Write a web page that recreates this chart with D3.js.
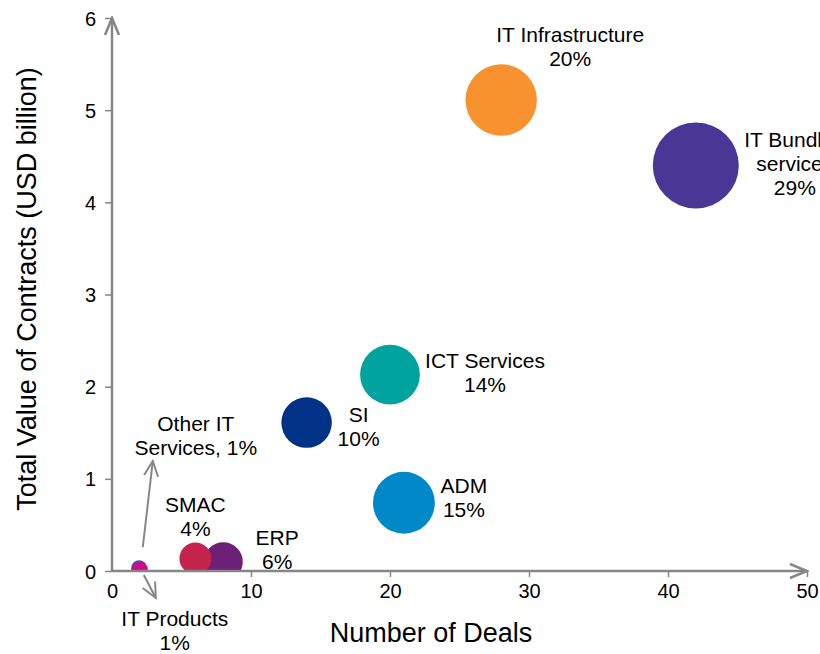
<!DOCTYPE html>
<html>
<head>
<meta charset="utf-8">
<script src="https://cdn.jsdelivr.net/npm/d3@7"></script>
<style>
  html, body { margin: 0; padding: 0; background: #fff; }
  svg { display: block; font-family: "Liberation Sans", Arial, sans-serif; }
</style>
</head>
<body>
<svg id="chart" width="820" height="654"></svg>
<script>
// ---- data ----
const categories = ["IT Bundled services", "IT Infrastructure", "ADM", "ICT Services", "SI", "ERP", "SMAC", "Other IT Services", "IT Products"];
const labelLines = [["IT Bundled", "services", "29%"], ["IT Infrastructure", "20%"], ["ADM", "15%"], ["ICT Services", "14%"], ["SI", "10%"], ["ERP", "6%"], ["SMAC", "4%"], ["Other IT", "Services, 1%"], ["IT Products", "1%"]];
const numberOfDeals = [42, 28, 21, 20, 14, 8, 6, 1.95, 2];
const contractValue = [4.4, 5.11, 0.74, 2.13, 1.61, 0.1, 0.135, 0.03, 0.015];
const sharePct = [29, 20, 15, 14, 10, 6, 4, 1, 1];
const colors = ["#483794", "#F7922F", "#0088C9", "#00A39E", "#003288", "#6C2076", "#C4244B", "#2A5FB0", "#D3088C"];
const xTicks = [0, 10, 20, 30, 40, 50];
const yTicks = [0, 1, 2, 3, 4, 5, 6];

// ---- layout ----
const svg = d3.select("#chart");
const x = d3.scaleLinear().domain([0, 50]).range([112, 807]);
const y = d3.scaleLinear().domain([0, 6]).range([571, 18]);
const r = d3.scaleSqrt().domain([0, 29]).range([0, 43]);
const axisColor = "#868686";

// label offsets relative to bubble centres (px): [dx, first-baseline dy]
const labelOffsets = [[99, -18], [69, -58], [60, -10], [95, -7], [52, -1], [54, -17], [0, -47], [56, -140], [35, 55]];
const lineH = 24;

const defs = svg.append("defs");
defs.append("clipPath").attr("id", "plotClip")
  .append("rect").attr("x", x(0)).attr("y", 0).attr("width", 820 - x(0)).attr("height", y(0));
defs.append("marker").attr("id", "axisArrow")
  .attr("viewBox", "-20 -10 22 20").attr("refX", 0).attr("refY", 0)
  .attr("markerUnits", "userSpaceOnUse").attr("markerWidth", 22).attr("markerHeight", 20)
  .attr("orient", "auto")
  .append("path").attr("d", "M-17,-7 L0,0 L-17,7").attr("fill", "none")
  .attr("stroke", axisColor).attr("stroke-width", 2.5);
defs.append("marker").attr("id", "noteArrow")
  .attr("viewBox", "-18 -10 20 20").attr("refX", 0).attr("refY", 0)
  .attr("markerUnits", "userSpaceOnUse").attr("markerWidth", 20).attr("markerHeight", 20)
  .attr("orient", "auto")
  .append("path").attr("d", "M-15,-7 L0,0 L-15,7").attr("fill", "none")
  .attr("stroke", axisColor).attr("stroke-width", 2);

// ---- bubbles ----
const rows = categories.map((c, i) => ({ c, i, dx: numberOfDeals[i], v: contractValue[i], s: sharePct[i], col: colors[i] }));
svg.append("g").attr("clip-path", "url(#plotClip)")
  .selectAll("circle").data(rows).join("circle")
  .attr("cx", d => x(d.dx)).attr("cy", d => y(d.v)).attr("r", d => r(d.s))
  .attr("fill", d => d.col);

// ---- axes ----
const xAxis = svg.append("g").attr("transform", `translate(0,${y(0)})`)
  .call(d3.axisBottom(x).tickValues(xTicks).tickFormat(d3.format("d")).tickSize(6).tickSizeOuter(0).tickPadding(7));
const yAxis = svg.append("g").attr("transform", `translate(${x(0)},0)`)
  .call(d3.axisLeft(y).tickValues(yTicks).tickFormat(d3.format("d")).tickSize(7).tickSizeOuter(0).tickPadding(9));
[xAxis, yAxis].forEach(g => {
  g.select(".domain").remove();
  g.selectAll(".tick line").attr("stroke", axisColor).attr("stroke-width", 1.5);
  g.selectAll(".tick text").attr("fill", "#000").style("font-size", "20px")
    .style("font-family", "'Liberation Sans', Arial, sans-serif");
});
xAxis.selectAll(".tick line").filter(d => d === 0).remove();
yAxis.selectAll(".tick text").attr("dy", "0.35em");

svg.append("line").attr("x1", x(0)).attr("y1", y(0)).attr("x2", x(50)).attr("y2", y(0))
  .attr("stroke", axisColor).attr("stroke-width", 2.5).attr("marker-end", "url(#axisArrow)");
svg.append("line").attr("x1", x(0)).attr("y1", y(0)).attr("x2", x(0)).attr("y2", y(6))
  .attr("stroke", axisColor).attr("stroke-width", 2.5).attr("marker-end", "url(#axisArrow)");

// ---- annotation arrows for tiny bubbles ----
const otherIdx = categories.indexOf("Other IT Services");
const prodIdx = categories.indexOf("IT Products");
const ox = x(numberOfDeals[prodIdx]), oy = y(0);
svg.append("line").attr("x1", ox + 3).attr("y1", oy - 24).attr("x2", ox + 13).attr("y2", oy - 110)
  .attr("stroke", axisColor).attr("stroke-width", 2).attr("marker-end", "url(#noteArrow)");
svg.append("line").attr("x1", ox + 4).attr("y1", oy + 4).attr("x2", ox + 16).attr("y2", oy + 27)
  .attr("stroke", axisColor).attr("stroke-width", 2).attr("marker-end", "url(#noteArrow)");

// ---- bubble labels ----
const lab = svg.append("g").style("font-size", "21px").attr("fill", "#000").attr("text-anchor", "middle");
rows.forEach(d => {
  const [odx, ody] = labelOffsets[d.i];
  const baseX = (d.i === otherIdx || d.i === prodIdx) ? ox : x(d.dx);
  const baseY = (d.i === otherIdx || d.i === prodIdx) ? oy : y(d.v);
  const t = lab.append("text");
  labelLines[d.i].forEach((ln, k) => {
    t.append("tspan").attr("x", baseX + odx).attr("y", baseY + ody + k * lineH).text(ln);
  });
});

// ---- axis titles ----
svg.append("text").attr("x", 431).attr("y", 642).attr("text-anchor", "middle")
  .style("font-size", "27px").attr("fill", "#000").text("Number of Deals");
svg.append("text").attr("transform", "translate(36,289) rotate(-90)").attr("text-anchor", "middle")
  .style("font-size", "27px").attr("fill", "#000").text("Total Value of Contracts (USD billion)");
</script>
</body>
</html>
